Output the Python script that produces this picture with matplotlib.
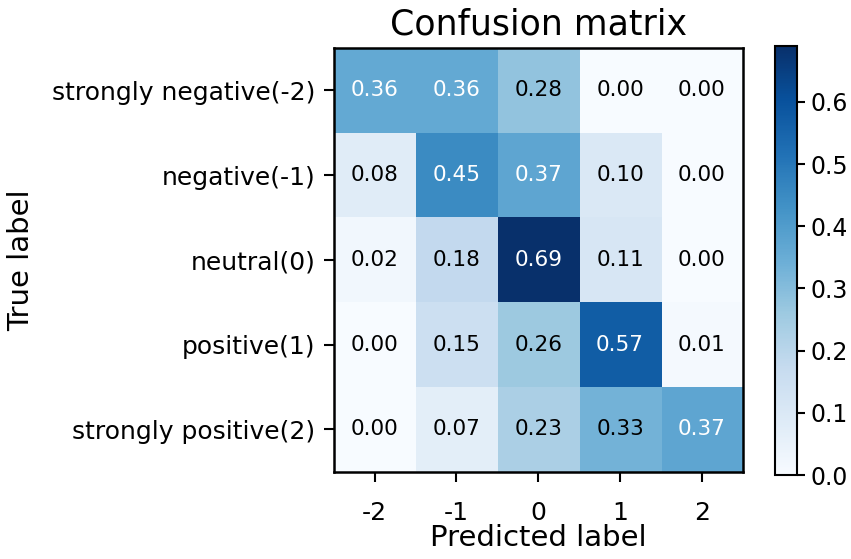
import numpy as np
import matplotlib
matplotlib.use("Agg")
import matplotlib.pyplot as plt

# метки классов
true_labels = ["strongly negative(-2)", "negative(-1)", "neutral(0)",
               "positive(1)", "strongly positive(2)"]
pred_labels = ["-2", "-1", "0", "1", "2"]

# нормированная матрица ошибок
row_sn = [0.36, 0.36, 0.28, 0.00, 0.00]
row_n = [0.08, 0.45, 0.37, 0.10, 0.00]
row_0 = [0.02, 0.18, 0.69, 0.11, 0.00]
row_p = [0.00, 0.15, 0.26, 0.57, 0.01]
row_sp = [0.00, 0.07, 0.23, 0.33, 0.37]
cm = np.array([row_sn, row_n, row_0, row_p, row_sp])

fig = plt.figure(figsize=(8.51, 5.59), dpi=100)
ax = fig.add_axes([0.392, 0.156, 0.481, 0.758])
cax = fig.add_axes([0.911, 0.150, 0.026, 0.768])

im = ax.imshow(cm, interpolation="nearest", cmap=plt.cm.Blues, aspect="auto")
ax.set_title("Confusion matrix", fontsize=25, pad=10)
cb = fig.colorbar(im, cax=cax)
cb.ax.tick_params(labelsize=17, length=6, width=1.5)
cb.outline.set_linewidth(1.5)

ax.set_xticks(np.arange(len(pred_labels)))
ax.set_xticklabels(pred_labels, fontsize=18)
ax.set_yticks(np.arange(len(true_labels)))
ax.set_yticklabels(true_labels, fontsize=18)
ax.tick_params(axis="both", length=7, width=1.5, pad=6)
ax.tick_params(axis="x", pad=14)

thresh = cm.max() / 2.
for i in range(cm.shape[0]):
    for j in range(cm.shape[1]):
        ax.text(j, i, format(cm[i, j], ".2f"),
                ha="center", va="center", fontsize=15.5,
                color="white" if cm[i, j] > thresh else "black")

ax.set_ylabel("True label", fontsize=21, labelpad=12)
ax.set_xlabel("Predicted label", fontsize=21, labelpad=-1)
for s in ax.spines.values():
    s.set_linewidth(1.8)

fig.savefig("out.png", dpi=100)
